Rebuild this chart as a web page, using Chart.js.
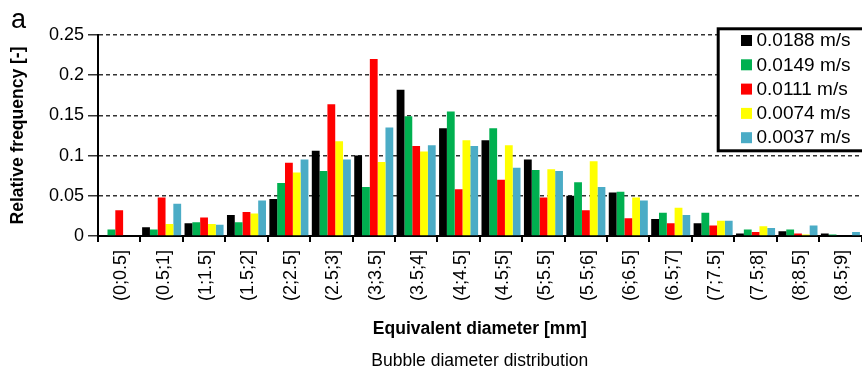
<!DOCTYPE html>
<html>
<head>
<meta charset="utf-8">
<title>Bubble diameter distribution</title>
<script src="https://cdn.jsdelivr.net/npm/chart.js@4/dist/chart.umd.min.js"></script>
<style>
  html, body { margin: 0; padding: 0; background: #ffffff; overflow: hidden; }
  #wrap { position: relative; width: 870px; height: 374px; }
</style>
</head>
<body>
<div id="wrap"><canvas id="chart" width="870" height="374"></canvas></div>
<script>
// Diameter classes (mm)
const categories = [
  '(0;0.5]', '(0.5;1]', '(1;1.5]', '(1.5;2]', '(2;2.5]', '(2.5;3]',
  '(3;3.5]', '(3.5;4]', '(4;4.5]', '(4.5;5]', '(5;5.5]', '(5.5;6]',
  '(6;6.5]', '(6.5;7]', '(7;7.5]', '(7.5;8]', '(8;8.5]', '(8.5;9]'
];

// Superficial gas velocities
const seriesNames = ['0.0188 m/s', '0.0149 m/s', '0.0111 m/s', '0.0074 m/s', '0.0037 m/s'];

// Relative frequency per class for each velocity
const freq0188 = [0, 0.011, 0.016, 0.026, 0.046, 0.106, 0.100, 0.182, 0.134, 0.119, 0.095, 0.050, 0.054, 0.021, 0.016, 0.003, 0.006, 0.003];
const freq0149 = [0.008, 0.008, 0.017, 0.017, 0.066, 0.081, 0.061, 0.149, 0.155, 0.134, 0.082, 0.067, 0.055, 0.029, 0.029, 0.008, 0.008, 0.002];
const freq0111 = [0.032, 0.048, 0.023, 0.030, 0.091, 0.164, 0.220, 0.112, 0.058, 0.070, 0.048, 0.032, 0.022, 0.016, 0.013, 0.005, 0.003, 0.001];
const freq0074 = [0, 0.015, 0.015, 0.028, 0.079, 0.118, 0.092, 0.105, 0.119, 0.113, 0.083, 0.093, 0.048, 0.035, 0.019, 0.012, 0.002, 0];
const freq0037 = [0, 0.040, 0.014, 0.044, 0.095, 0.095, 0.135, 0.113, 0.112, 0.085, 0.081, 0.061, 0.044, 0.026, 0.019, 0.010, 0.013, 0.005];

// Value axis ticks
const yTickLabels = ['0', '0.05', '0.1', '0.15', '0.2', '0.25'];
const yStep = 0.05;
const yMax = 0.25;

// Texts
const panelLetter = 'a';
const xTitle = 'Equivalent diameter [mm]';
const yTitle = 'Relative frequency [-]';
const caption = 'Bubble diameter distribution';

const seriesColors = ['#000000', '#00B050', '#FF0000', '#FFFF00', '#4BACC6'];
const seriesValues = [freq0188, freq0149, freq0111, freq0074, freq0037];

const FONT = '"Liberation Sans", Arial, Helvetica, sans-serif';

// Boxed legend, panel letter and caption drawn on top of the chart
const overlay = {
  id: 'overlay',
  afterDraw(chart) {
    const ctx = chart.ctx;
    const area = chart.chartArea;
    ctx.save();

    ctx.fillStyle = '#000';
    ctx.font = '27px ' + FONT;
    ctx.textAlign = 'left';
    ctx.textBaseline = 'alphabetic';
    ctx.fillText(panelLetter, 11, 27.5);

    ctx.font = '17.5px ' + FONT;
    ctx.textAlign = 'center';
    ctx.textBaseline = 'middle';
    ctx.fillText(caption, (area.left + area.right) / 2, 361.5);

    // legend frame
    const bx = 718.2, by = 28.8, bw = 150, bh = 122;
    ctx.fillStyle = '#ffffff';
    ctx.fillRect(bx, by, bw, bh);
    ctx.lineWidth = 3;
    ctx.strokeStyle = '#000';
    ctx.strokeRect(bx, by, bw, bh);

    ctx.font = '19px ' + FONT;
    ctx.textAlign = 'left';
    ctx.textBaseline = 'middle';
    chart.data.datasets.forEach((ds, i) => {
      const cy = 40.5 + i * 24.3;
      ctx.fillStyle = ds.backgroundColor;
      ctx.fillRect(741, cy - 5.5, 11, 11);
      ctx.fillStyle = '#000';
      ctx.fillText(ds.label, 756.5, cy + 0.5);
    });

    ctx.restore();
  }
};

new Chart(document.getElementById('chart'), {
  type: 'bar',
  data: {
    labels: categories,
    datasets: seriesNames.map((name, i) => ({
      label: name,
      data: seriesValues[i],
      backgroundColor: seriesColors[i],
      borderWidth: 0,
      categoryPercentage: 0.92,
      barPercentage: 1.0
    }))
  },
  options: {
    responsive: false,
    devicePixelRatio: 1,
    animation: false,
    layout: { padding: { top: 35, left: 0, right: 0, bottom: 34 } },
    plugins: {
      legend: { display: false },
      tooltip: { enabled: false },
      title: { display: false }
    },
    scales: {
      x: {
        offset: true,
        grid: {
          offset: true,
          drawOnChartArea: false,
          drawTicks: true,
          tickLength: 6,
          color: '#000',
          lineWidth: 2
        },
        border: { color: '#000', width: 2 },
        ticks: {
          autoSkip: false,
          maxRotation: 90,
          minRotation: 90,
          padding: 8,
          labelOffset: 2,
          color: '#000',
          font: { family: FONT, size: 18 }
        },
        title: {
          display: true,
          text: xTitle,
          color: '#000',
          font: { family: FONT, size: 17.5, weight: 'bold' },
          padding: { top: 0, bottom: 0 }
        },
        afterFit(scale) { scale.height = 104; }
      },
      y: {
        min: 0,
        max: yMax,
        ticks: {
          stepSize: yStep,
          padding: 4,
          color: '#000',
          font: { family: FONT, size: 18 },
          callback: (value) => yTickLabels[Math.round(value / yStep)]
        },
        grid: {
          color: '#333333',
          lineWidth: 1.5,
          drawTicks: true,
          tickLength: 10,
          tickColor: '#333333'
        },
        border: { color: '#000', width: 2, dash: [4, 3] },
        title: {
          display: true,
          text: yTitle,
          color: '#000',
          font: { family: FONT, size: 17.5, weight: 'bold' },
          padding: { top: 8, bottom: 0 }
        },
        afterFit(scale) { scale.width = 98; }
      }
    }
  },
  plugins: [overlay]
});
</script>
</body>
</html>
